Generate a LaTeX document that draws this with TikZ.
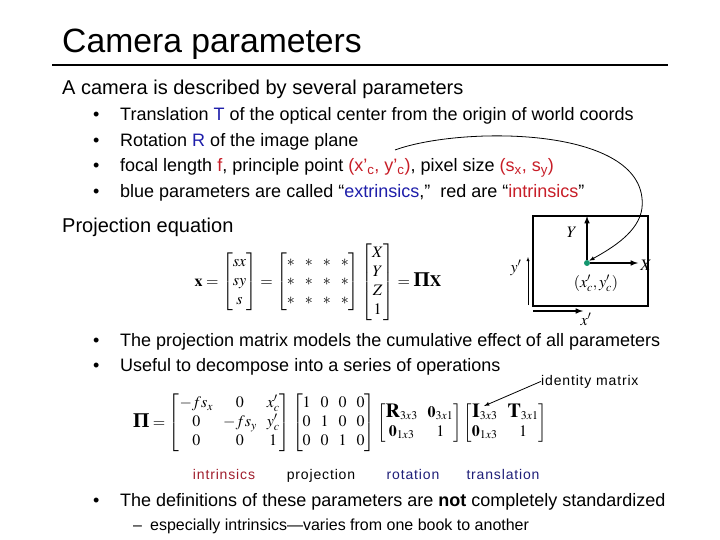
\documentclass[tikz,border=0pt]{standalone}
\usepackage{amsmath}
\usepackage{mathptmx}
\usepackage[no-math]{fontspec}
\setmainfont{Liberation Sans}
\newfontfamily\serifgr{Liberation Serif}
\newfontfamily\spacedsans[LetterSpace=6]{Liberation Sans}
\usetikzlibrary{positioning}
\usepackage{xcolor}
\definecolor{extblue}{RGB}{30,30,170}
\definecolor{intred}{RGB}{200,30,40}
\definecolor{lblred}{RGB}{160,30,45}
\definecolor{lblblue}{RGB}{30,30,120}
\definecolor{dotgreen}{RGB}{20,150,110}
\newcommand{\ext}[1]{\textcolor{extblue}{#1}}
\newcommand{\intr}[1]{\textcolor{intred}{#1}}
\newcommand{\bfPi}{\text{\fontsize{21}{21}\selectfont\serifgr\bfseries Π}}
\newcommand{\bigbf}[1]{\text{\fontsize{20}{20}\selectfont$\mathbf{#1}$}}

\begin{document}
\begin{tikzpicture}[x=1pt,y=-1pt,>=latex,
  slidetitle/.style={anchor=base west,inner sep=0,font=\fontsize{33.7}{36}\selectfont},
  lvlone/.style={anchor=base west,inner sep=0,font=\fontsize{20}{24}\selectfont},
  lvltwo/.style={anchor=base west,inner sep=0,font=\fontsize{18}{21}\selectfont},
  lvlthree/.style={anchor=base west,inner sep=0,font=\fontsize{16}{19}\selectfont},
  lbl/.style={anchor=base,inner sep=0,font=\spacedsans\fontsize{14}{16}\selectfont},
  eqn/.style={inner sep=0,font=\fontsize{16}{19}\selectfont},
  axlbl/.style={inner sep=0,font=\fontsize{16}{19}\selectfont}]
  \useasboundingbox[fill=white] (0,0) rectangle (720,540);

  % Title
  \node[slidetitle] (title) at (62,53) {Camera parameters};
  \draw[line width=2.5pt] (52,65) -- (668,65);

  % Parameters
  \node[lvlone] (intro) at (62,95) {A camera is described by several parameters};
  \node[lvltwo] (d1) at (93,121) {•};
  \node[lvltwo] (t1) at (120,121) {Translation \ext{T} of the optical center from the origin of world coords};
  \node[lvltwo] (d2) at (93,147) {•};
  \node[lvltwo] (t2) at (120,147) {Rotation \ext{R} of the image plane};
  \node[lvltwo] (d3) at (93,172) {•};
  \node[lvltwo] (t3) at (120,172) {focal length \intr{f}, principle point \intr{(x’\textsubscript{c}, y’\textsubscript{c})}, pixel size \intr{(s\textsubscript{x}, s\textsubscript{y})}};
  \node[lvltwo] (d4) at (93,198) {•};
  \node[lvltwo] (t4) at (120,198) {blue parameters are called “\ext{extrinsics},”\ \ red are “\intr{intrinsics}”};

  % Projection equation
  \node[lvlone] (proj) at (62,233) {Projection equation};
  \node[eqn] (eqproj) at (318,282) {$\mathbf{x} = \begin{bmatrix} sx\\ sy\\ s \end{bmatrix}
    = \begin{bmatrix} * & * & * & *\\ * & * & * & *\\ * & * & * & * \end{bmatrix}
    \begin{bmatrix} X\\ Y\\ Z\\ 1 \end{bmatrix} = \bfPi\mathbf{X}$};

  % Image plane
  \draw[line width=2pt] (533,216) rectangle (648,306);
  \node[circle, fill=dotgreen, inner sep=0, minimum size=6pt] (pc) at (587,263) {};
  \coordinate (ytip) at (587,216);
  \coordinate (xtip) at (638,263);
  \draw[line width=1.5pt, ->] (pc) -- (ytip);
  \draw[line width=1.5pt, ->] (pc) -- (xtip);
  \node[axlbl] (ylab) at (572,232) {$Y$};
  \node[axlbl] (xlab) at (646,265) {$X$};
  \node[axlbl] (pclab) at (596,283) {$(x'_c, y'_c)$};
  \coordinate (yp0) at (528,305);
  \coordinate (yp1) at (528,257);
  \draw[thin, ->] (yp0) -- (yp1);
  \node[axlbl] (yplab) at (516,268) {$y'$};
  \coordinate (xp0) at (533,311);
  \coordinate (xp1) at (583,311);
  \draw[line width=1.5pt, ->] (xp0) -- (xp1);
  \node[axlbl] (xplab) at (586,319) {$x'$};

  % Origin arrow
  \coordinate (orig) at (395,150);
  \draw[thick, ->] (orig) .. controls (460,126) and (650,125) .. (642,208)
    .. controls (639,232) and (612,248) .. (pc.north east);

  % Decomposition
  \node[lvltwo] (d5) at (93,346) {•};
  \node[lvltwo] (t5) at (120,346) {The projection matrix models the cumulative effect of all parameters};
  \node[lvltwo] (d6) at (93,371) {•};
  \node[lvltwo] (t6) at (120,371) {Useful to decompose into a series of operations};
  \node[lbl, anchor=base west] (ident) at (541,385) {identity matrix};

  \node[eqn] (eqpi) at (340,423) {$\bfPi = \begin{bmatrix} -fs_x & 0 & x'_c\\ 0 & -fs_y & y'_c\\ 0 & 0 & 1 \end{bmatrix}
    \begin{bmatrix} 1 & 0 & 0 & 0\\ 0 & 1 & 0 & 0\\ 0 & 0 & 1 & 0 \end{bmatrix}
    \begin{bmatrix} \bigbf{R}_{3x3} & \mathbf{0}_{3x1}\\ \mathbf{0}_{1x3} & 1 \end{bmatrix}
    \begin{bmatrix} \bigbf{I}_{3x3} & \bigbf{T}_{3x1}\\ \mathbf{0}_{1x3} & 1 \end{bmatrix}$};
  \coordinate (itip) at (484,406);
  \draw[thick, ->] (ident.west) -- (itip);

  % Labels
  \node[lbl, lblred] (lint) at (224,479) {intrinsics};
  \node[lbl] (lproj) at (321,479) {projection};
  \node[lbl, lblblue] (lrot) at (413,479) {rotation};
  \node[lbl, lblblue] (ltrans) at (503,479) {translation};

  % Standardization
  \node[lvltwo] (d7) at (93,506) {•};
  \node[lvltwo] (t7) at (120,506) {The definitions of these parameters are \textbf{not} completely standardized};
  \node[lvlthree] (d8) at (133,530) {–};
  \node[lvlthree] (t8) at (150,530) {especially intrinsics—varies from one book to another};
\end{tikzpicture}
\end{document}
